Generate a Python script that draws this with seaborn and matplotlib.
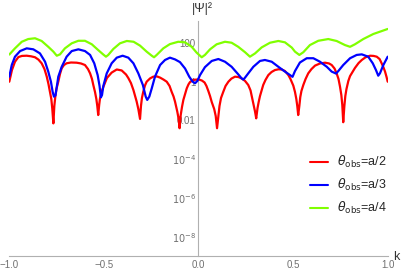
import numpy as np
import pandas as pd
import matplotlib
matplotlib.use("Agg")
import matplotlib.pyplot as plt
import matplotlib.ticker as mticker
import seaborn as sns

# curves: k and log10(|psi|^2)
red_k = [-1.000, -0.986, -0.970, -0.952, -0.933, -0.908, -0.885, -0.864, -0.846, -0.829,
         -0.814, -0.802, -0.793, -0.785, -0.778, -0.773, -0.767, -0.762, -0.757, -0.751,
         -0.741, -0.732, -0.723, -0.711, -0.697, -0.674, -0.644, -0.621, -0.600, -0.584,
         -0.573, -0.563, -0.556, -0.547, -0.540, -0.535, -0.530, -0.525, -0.521, -0.513,
         -0.503, -0.484, -0.459, -0.432, -0.406, -0.383, -0.371, -0.357, -0.344, -0.336,
         -0.327, -0.318, -0.309, -0.304, -0.299, -0.292, -0.283, -0.274, -0.256, -0.239,
         -0.219, -0.203, -0.185, -0.168, -0.153, -0.142, -0.132, -0.124, -0.112, -0.105,
         -0.100, -0.094, -0.087, -0.080, -0.071, -0.062, -0.053, -0.045, -0.029, -0.013,
         0.003, 0.018, 0.032, 0.042, 0.052, 0.061, 0.070, 0.083, 0.091, 0.098,
         0.105, 0.111, 0.119, 0.131, 0.143, 0.158, 0.174, 0.193, 0.211, 0.228,
         0.246, 0.263, 0.275, 0.284, 0.292, 0.299, 0.305, 0.312, 0.318, 0.325,
         0.334, 0.342, 0.354, 0.369, 0.386, 0.404, 0.423, 0.440, 0.457, 0.475,
         0.486, 0.501, 0.510, 0.517, 0.522, 0.527, 0.533, 0.538, 0.544, 0.554,
         0.566, 0.580, 0.597, 0.616, 0.642, 0.669, 0.690, 0.704, 0.719, 0.730,
         0.740, 0.748, 0.755, 0.760, 0.765, 0.771, 0.776, 0.782, 0.792, 0.801,
         0.827, 0.846, 0.863, 0.883, 0.907, 0.925, 0.942, 0.957, 0.968, 0.978,
         0.986, 0.994, 1.000]
red_log = [-0.01, 0.59, 1.02, 1.26, 1.32, 1.33, 1.30, 1.25, 1.13, 0.94,
           0.64, 0.25, -0.13, -0.53, -0.90, -1.38, -2.16, -1.26, -0.80, -0.39,
           -0.01, 0.39, 0.68, 0.85, 0.94, 0.98, 0.97, 0.93, 0.85, 0.64,
           0.42, 0.13, -0.18, -0.54, -0.90, -1.26, -1.73, -1.21, -0.90, -0.54,
           -0.28, 0.18, 0.46, 0.62, 0.57, 0.36, 0.18, -0.08, -0.44, -0.72,
           -1.03, -1.42, -1.93, -1.26, -0.85, -0.53, -0.21, -0.01, 0.16, 0.25,
           0.26, 0.20, 0.10, -0.01, -0.23, -0.53, -0.77, -1.04, -1.56, -1.93,
           -2.41, -1.73, -1.30, -0.95, -0.64, -0.35, -0.15, -0.03, 0.07, 0.10,
           0.10, 0.05, -0.05, -0.23, -0.49, -0.75, -1.06, -1.42, -1.78, -2.41,
           -1.78, -1.26, -0.85, -0.53, -0.23, -0.01, 0.15, 0.25, 0.23, 0.16,
           0.03, -0.18, -0.46, -0.87, -1.21, -1.56, -1.90, -1.37, -1.06, -0.75,
           -0.44, -0.18, 0.08, 0.33, 0.49, 0.59, 0.63, 0.62, 0.54, 0.33,
           0.13, -0.21, -0.54, -0.90, -1.26, -1.73, -1.26, -0.80, -0.49, -0.18,
           0.13, 0.42, 0.64, 0.82, 0.93, 0.97, 0.93, 0.85, 0.67, 0.42,
           0.13, -0.27, -0.70, -1.21, -2.10, -1.26, -0.75, -0.39, 0.03, 0.28,
           0.70, 0.95, 1.11, 1.25, 1.33, 1.32, 1.28, 1.16, 0.94, 0.72,
           0.51, 0.23, -0.01]

blue_k = [-1.000, -0.987, -0.970, -0.943, -0.908, -0.873, -0.838, -0.811, -0.794, -0.780,
          -0.771, -0.764, -0.756, -0.749, -0.741, -0.723, -0.697, -0.670, -0.635, -0.600,
          -0.573, -0.551, -0.533, -0.523, -0.516, -0.510, -0.503, -0.485, -0.459, -0.432,
          -0.401, -0.371, -0.344, -0.318, -0.294, -0.279, -0.271, -0.260, -0.247, -0.230,
          -0.203, -0.177, -0.151, -0.124, -0.098, -0.071, -0.049, -0.031, -0.018, -0.006,
          0.008, 0.034, 0.070, 0.105, 0.140, 0.175, 0.210, 0.228, 0.237, 0.246,
          0.263, 0.290, 0.325, 0.351, 0.387, 0.422, 0.457, 0.484, 0.497, 0.510,
          0.536, 0.572, 0.607, 0.642, 0.678, 0.704, 0.727, 0.739, 0.765, 0.801,
          0.836, 0.863, 0.897, 0.921, 0.938, 0.950, 0.959, 0.977, 1.000]
blue_log = [0.25, 0.85, 1.28, 1.57, 1.71, 1.66, 1.45, 1.02, 0.51, -0.01,
            -0.53, -0.78, -0.72, -0.27, 0.25, 0.76, 1.28, 1.57, 1.66, 1.57,
            1.37, 0.94, 0.33, -0.23, -0.82, -0.70, -0.23, 0.42, 0.94, 1.23,
            1.33, 1.23, 0.94, 0.42, -0.18, -0.78, -0.95, -0.78, -0.35, 0.25,
            0.85, 1.11, 1.23, 1.14, 1.00, 0.67, 0.25, -0.01, -0.09, 0.03,
            0.33, 0.74, 1.06, 1.16, 1.02, 0.76, 0.37, 0.16, 0.10, 0.20,
            0.42, 0.76, 1.06, 1.11, 1.02, 0.76, 0.51, 0.33, 0.24, 0.54,
            0.98, 1.20, 1.20, 1.02, 0.76, 0.51, 0.41, 0.54, 0.85, 1.20,
            1.37, 1.40, 1.28, 0.94, 0.59, 0.30, 0.42, 0.85, 1.28]

green_k = [-1.000, -0.970, -0.934, -0.900, -0.864, -0.829, -0.794, -0.767, -0.749, -0.732,
           -0.706, -0.670, -0.635, -0.600, -0.564, -0.530, -0.503, -0.489, -0.477, -0.450,
           -0.415, -0.379, -0.343, -0.309, -0.274, -0.247, -0.235, -0.221, -0.186, -0.151,
           -0.107, -0.071, -0.036, -0.010, 0.017, 0.034, 0.061, 0.096, 0.140, 0.175,
           0.210, 0.246, 0.272, 0.299, 0.334, 0.378, 0.422, 0.457, 0.493, 0.510,
           0.533, 0.554, 0.589, 0.633, 0.686, 0.730, 0.774, 0.801, 0.827, 0.871,
           0.924, 0.968, 1.000]
green_log = [1.39, 1.71, 2.05, 2.19, 2.23, 2.09, 1.79, 1.54, 1.33, 1.40,
             1.71, 1.97, 2.10, 2.10, 1.92, 1.62, 1.39, 1.28, 1.37, 1.68,
             1.97, 2.09, 2.05, 1.85, 1.54, 1.33, 1.25, 1.37, 1.71, 1.93,
             2.05, 2.02, 1.79, 1.49, 1.25, 1.37, 1.66, 1.92, 2.05, 2.00,
             1.79, 1.51, 1.28, 1.45, 1.76, 2.00, 2.09, 2.02, 1.75, 1.54,
             1.37, 1.51, 1.88, 2.10, 2.19, 2.09, 1.88, 1.79, 1.92, 2.19,
             2.45, 2.60, 2.71]

labels = [r"$\theta_{\rm obs}$=a/2", r"$\theta_{\rm obs}$=a/3", r"$\theta_{\rm obs}$=a/4"]
colors = ["#ff0000", "#0000ff", "#80ff00"]

x_ticks = [-1.0, -0.5, 0.0, 0.5, 1.0]
x_ticklabels = ["\u22121.0", "\u22120.5", "0.0", "0.5", "1.0"]
y_ticks = [1e2, 1e0, 1e-2, 1e-4, 1e-6, 1e-8]
y_ticklabels = ["100", "1", "0.01", r"$10^{-4}$", r"$10^{-6}$", r"$10^{-8}$"]

sns.set_style("white")
plt.rcParams["font.family"] = ["Liberation Sans", "DejaVu Sans"]
plt.rcParams["mathtext.fontset"] = "dejavusans"

fig = plt.figure(figsize=(4.02, 2.73), dpi=100)
ax = fig.add_axes([9.3 / 402, 17 / 273, 378.4 / 402, 234.6 / 273])

curves = [(red_k, red_log), (blue_k, blue_log), (green_k, green_log)]
for (kk, lg), lab, col in zip(curves, labels, colors):
    df = pd.DataFrame({"k": kk, "psi2": 10.0 ** np.array(lg)})
    sns.lineplot(data=df, x="k", y="psi2", color=col, lw=1.6, label=lab,
                 ax=ax, zorder=3, sort=False)

ax.set_yscale("log")
ax.set_xlim(-1, 1)
ax.set_ylim(1e-9, 10 ** 3.1)

ax.spines["top"].set_visible(False)
ax.spines["right"].set_visible(False)
ax.spines["left"].set_position(("data", 0))
for s in ["left", "bottom"]:
    ax.spines[s].set_color("#b0b0b0")
    ax.spines[s].set_linewidth(0.8)

ax.xaxis.set_major_locator(mticker.FixedLocator(x_ticks))
ax.xaxis.set_major_formatter(mticker.FixedFormatter(x_ticklabels))
ax.xaxis.set_minor_locator(mticker.MultipleLocator(0.1))
ax.yaxis.set_major_locator(mticker.FixedLocator(y_ticks))
ax.yaxis.set_major_formatter(mticker.FixedFormatter(y_ticklabels))
ax.yaxis.set_minor_locator(mticker.FixedLocator([1e3, 1e1, 1e-1, 1e-3, 1e-5, 1e-7]))
ax.yaxis.set_minor_formatter(mticker.NullFormatter())

ax.tick_params(which="major", direction="in", length=4, width=0.7, color="#b0b0b0",
               labelsize=7, labelcolor="#707070")
ax.tick_params(which="minor", direction="in", length=2.5, width=0.6, color="#b0b0b0")
ax.tick_params(axis="y", which="both", pad=2)
ax.tick_params(axis="x", which="both", pad=3)
ax.set_xlabel("")
ax.set_ylabel("")

fig.text(202 / 402, 1 - 9 / 273, "|\u03a8|\u00b2", ha="center", va="center",
         fontsize=9, color="#333333")
fig.text(396.5 / 402, 1 - 257 / 273, "k", ha="center", va="center",
         fontsize=9, color="#333333")

leg = ax.legend(loc="center left", bbox_to_anchor=(310 / 402, 1 - 185 / 273),
                bbox_transform=fig.transFigure, frameon=False, fontsize=9,
                handlelength=1.45, handletextpad=0.7, labelspacing=0.55,
                borderpad=0, borderaxespad=0)
for line in leg.get_lines():
    line.set_linewidth(1.5)

fig.savefig("out.png", dpi=100)
